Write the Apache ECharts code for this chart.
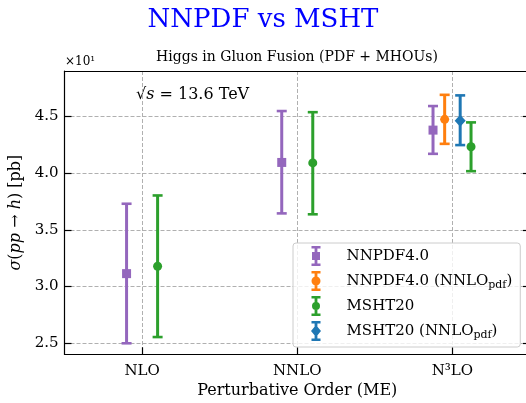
<!DOCTYPE html>
<html>
<head>
<meta charset="utf-8">
<script src="https://cdn.jsdelivr.net/npm/echarts@6/dist/echarts.min.js"></script>
<style>
html, body { margin: 0; padding: 0; background: #fff; }
#chart { width: 526px; height: 403px; }
</style>
</head>
<body>
<div id="chart"></div>
<script>
// perturbative orders on the x axis
var orders = ['NLO', 'NNLO', 'N\u00b3LO'];
var orderPos = [0, 1, 2];
var yTicks = [2.5, 3.0, 3.5, 4.0, 4.5];

// NNPDF4.0
var nnpdfX = [-0.1, 0.9, 1.875];
var nnpdfY = [3.114, 4.094, 4.379];
var nnpdfLo = [2.50, 3.645, 4.170];
var nnpdfHi = [3.730, 4.547, 4.591];
// NNPDF4.0 (NNLO pdf)
var nnpdfPdfX = [1.95];
var nnpdfPdfY = [4.474];
var nnpdfPdfLo = [4.258];
var nnpdfPdfHi = [4.690];
// MSHT20
var mshtX = [0.1, 1.1, 2.12];
var mshtY = [3.179, 4.090, 4.232];
var mshtLo = [2.555, 3.637, 4.017];
var mshtHi = [3.803, 4.537, 4.447];
// MSHT20 (NNLO pdf)
var mshtPdfX = [2.05];
var mshtPdfY = [4.461];
var mshtPdfLo = [4.247];
var mshtPdfHi = [4.685];

var SERIF = 'DejaVu Serif';

var capsStem = 'M1,0 H10 V2.4 H1 Z M1,17.6 H10 V20 H1 Z M4.1,0 H6.9 V20 H4.1 Z ';
var sets = [
	{name: 'NNPDF4.0', label: '{g|}NNPDF4.0', color: '#9467bd', x: nnpdfX, y: nnpdfY, lo: nnpdfLo, hi: nnpdfHi,
		symbol: 'rect', size: 9, icon: capsStem + 'M1.5,6 H9.5 V14 H1.5 Z'},
	{name: 'NNPDF4.0 (NNLOpdf)', label: '{g|}NNPDF4.0 (NNLO{s|pdf})', color: '#ff7f0e', x: nnpdfPdfX, y: nnpdfPdfY, lo: nnpdfPdfLo, hi: nnpdfPdfHi,
		symbol: 'circle', size: 9, icon: capsStem + 'M5.5,5.5 A4.5,4.5 0 1 1 5.5,14.5 A4.5,4.5 0 1 1 5.5,5.5 Z'},
	{name: 'MSHT20', label: '{g|}MSHT20', color: '#2ca02c', x: mshtX, y: mshtY, lo: mshtLo, hi: mshtHi,
		symbol: 'circle', size: 9, icon: capsStem + 'M5.5,6 A4,4 0 1 1 5.5,14 A4,4 0 1 1 5.5,6 Z'},
	{name: 'MSHT20 (NNLOpdf)', label: '{g|}MSHT20 (NNLO{s|pdf})', color: '#1f77b4', x: mshtPdfX, y: mshtPdfY, lo: mshtPdfLo, hi: mshtPdfHi,
		symbol: 'diamond', size: [11, 12], icon: capsStem + 'M5.5,4 L10.5,10 L5.5,16 L0.5,10 Z'}
];

function errRender(params, api) {
	var x = api.value(0);
	var top = api.coord([x, api.value(2)]);
	var bot = api.coord([x, api.value(1)]);
	var c = api.visual('color');
	var hw = 5;
	return {
		type: 'group',
		children: [
			{type: 'line', shape: {x1: top[0], y1: top[1], x2: bot[0], y2: bot[1]}, style: {stroke: c, lineWidth: 3}},
			{type: 'line', shape: {x1: top[0] - hw, y1: top[1], x2: top[0] + hw, y2: top[1]}, style: {stroke: c, lineWidth: 2.6}},
			{type: 'line', shape: {x1: bot[0] - hw, y1: bot[1], x2: bot[0] + hw, y2: bot[1]}, style: {stroke: c, lineWidth: 2.6}}
		]
	};
}

var series = [];
var legendData = [];
var labelMap = {};
for(var i = 0; i < sets.length; i++) {
	var s = sets[i];
	var errData = [], ptData = [];
	for(var j = 0; j < s.x.length; j++) {
		errData.push([s.x[j], s.lo[j], s.hi[j]]);
		ptData.push([s.x[j], s.y[j]]);
	}
	series.push({
		name: s.name,
		type: 'custom',
		renderItem: errRender,
		itemStyle: {color: s.color},
		encode: {x: 0, y: [1, 2]},
		data: errData,
		z: 2 + i * 2
	});
	series.push({
		name: s.name,
		type: 'scatter',
		symbol: s.symbol,
		symbolSize: s.size,
		itemStyle: {color: s.color, opacity: 1},
		data: ptData,
		z: 3 + i * 2
	});
	legendData.push({name: s.name, icon: 'path://' + s.icon});
	labelMap[s.name] = s.label;
}

var option = {
	animation: false,
	backgroundColor: '#fff',
	title: {
		text: 'NNPDF vs MSHT',
		left: 'center',
		top: 2,
		textStyle: {fontFamily: SERIF, fontSize: 26, fontWeight: 'normal', color: '#0000ff'}
	},
	grid: {left: 64.5, right: -4, top: 71, bottom: 48.7, containLabel: false, outerBoundsMode: 'none'},
	legend: {
		orient: 'vertical',
		left: 293,
		top: 243,
		data: legendData,
		itemWidth: 11,
		itemHeight: 20,
		itemGap: 5,
		padding: [3, 8, 6, 18],
		backgroundColor: 'rgba(255,255,255,0.8)',
		borderColor: '#cccccc',
		borderWidth: 1,
		borderRadius: 3,
		selectedMode: false,
		formatter: function(n) { return labelMap[n]; },
		textStyle: {
			fontFamily: SERIF, fontSize: 15, color: '#000', lineHeight: 20,
			rich: {
				g: {width: 20},
				s: {fontFamily: SERIF, fontSize: 11, color: '#000', verticalAlign: 'bottom', lineHeight: 13}
			}
		}
	},
	xAxis: [{
		type: 'value',
		min: -0.5,
		max: 2.5,
		name: 'Perturbative Order (ME)',
		nameLocation: 'middle',
		nameGap: 24,
		nameTextStyle: {fontFamily: SERIF, fontSize: 16, color: '#000'},
		axisLine: {show: true, onZero: false, lineStyle: {color: '#000', width: 1.2}},
		axisTick: {show: true, inside: true, length: 7, customValues: orderPos, lineStyle: {color: '#000', width: 1.2}},
		axisLabel: {customValues: orderPos, margin: 9, formatter: function(v) { return orders[Math.round(v)]; }, fontFamily: SERIF, fontSize: 15, color: '#000'},
		splitLine: {show: true, lineStyle: {color: '#b0b0b0', type: [4, 2], width: 1}}
	}, {
		type: 'value',
		position: 'top',
		min: -0.5,
		max: 2.5,
		axisLine: {show: true, onZero: false, lineStyle: {color: '#000', width: 1.2}},
		axisTick: {show: false},
		axisLabel: {show: false},
		splitLine: {show: false}
	}],
	yAxis: [{
		type: 'value',
		min: 2.403,
		max: 4.9,
		name: '{i|\u03c3}({i|pp} \u2192 {i|h}) [pb]',
		nameLocation: 'middle',
		nameRotate: 90,
		nameGap: 38,
		nameTextStyle: {fontFamily: SERIF, fontSize: 16, color: '#000', rich: {i: {fontFamily: SERIF, fontSize: 16, fontStyle: 'italic', color: '#000'}}},
		axisLine: {show: true, onZero: false, lineStyle: {color: '#000', width: 1.2}},
		axisTick: {show: true, inside: true, length: 7, customValues: yTicks, lineStyle: {color: '#000', width: 1.2}},
		axisLabel: {customValues: yTicks, margin: 6, formatter: function(v) { return v.toFixed(1); }, fontFamily: SERIF, fontSize: 15, color: '#000'},
		splitLine: {show: true, lineStyle: {color: '#b0b0b0', type: [4, 2], width: 1}}
	}, {
		type: 'value',
		position: 'right',
		min: 2.403,
		max: 4.9,
		axisLine: {show: true, onZero: false, lineStyle: {color: '#000', width: 1.2}},
		axisTick: {show: true, inside: true, length: 7, customValues: yTicks, lineStyle: {color: '#000', width: 1.2}},
		axisLabel: {show: false},
		splitLine: {show: false}
	}],
	graphic: [
		{type: 'text', x: 297, y: 57, style: {text: 'Higgs in Gluon Fusion (PDF + MHOUs)', fontFamily: SERIF, fontSize: 14, fill: '#000', align: 'center', verticalAlign: 'middle'}},
		{type: 'text', x: 65, y: 62, style: {text: '\u00d710\u00b9', fontFamily: SERIF, fontSize: 12, fill: '#000', align: 'left', verticalAlign: 'middle'}},
		{type: 'text', x: 136, y: 95, style: {
			text: '\u221a{i|s} = 13.6 TeV', fontFamily: SERIF, fontSize: 16, fill: '#000', align: 'left', verticalAlign: 'middle',
			rich: {i: {fontFamily: SERIF, fontSize: 16, fontStyle: 'italic', fill: '#000'}}
		}}
	],
	series: series
};

var chart = echarts.init(document.getElementById('chart'));
chart.setOption(option);
</script>
</body>
</html>
